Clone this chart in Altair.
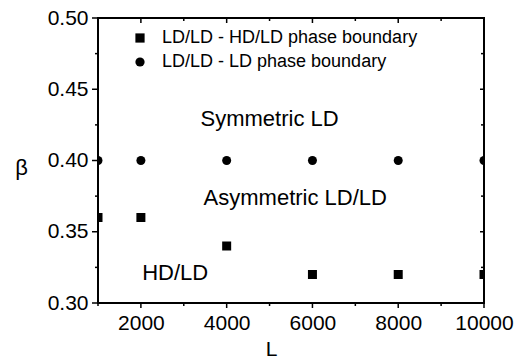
import altair as alt
import pandas as pd

# ---- data ----
L_values = [1000, 2000, 4000, 6000, 8000, 10000]
beta_hdld = [0.36, 0.36, 0.34, 0.32, 0.32, 0.32]
beta_ld = [0.40, 0.40, 0.40, 0.40, 0.40, 0.40]
series_names = ["LD/LD - HD/LD phase boundary", "LD/LD - LD phase boundary"]

x_major_ticks = [2000, 4000, 6000, 8000, 10000]
x_minor_ticks = [1000, 3000, 5000, 7000, 9000]
y_major_ticks = [0.30, 0.35, 0.40, 0.45, 0.50]
y_minor_ticks = [0.325, 0.375, 0.425, 0.475]

ann_text = ["Symmetric LD", "Asymmetric LD/LD", "HD/LD"]
ann_L = [5000, 5600, 2800]
ann_beta = [0.429, 0.374, 0.321]

FONT = "Liberation Sans"
W, H = 386, 285

pts = pd.DataFrame({
    "L": L_values + L_values,
    "beta": beta_hdld + beta_ld,
    "series": [series_names[0]] * len(L_values) + [series_names[1]] * len(L_values),
})
ann = pd.DataFrame({"L": ann_L, "beta": ann_beta, "text": ann_text})
xt_major = pd.DataFrame({"L": x_major_ticks})
xt_minor = pd.DataFrame({"L": x_minor_ticks})
yt_major = pd.DataFrame({"beta": y_major_ticks})
yt_minor = pd.DataFrame({"beta": y_minor_ticks})

xscale = alt.Scale(domain=[1000, 10000], nice=False, zero=False)
yscale = alt.Scale(domain=[0.30, 0.50], nice=False, zero=False)

x_axis_main = alt.Axis(
    orient="bottom", values=x_major_ticks, format="d", ticks=False,
    labelPadding=9, labelFontSize=21, labelFont=FONT, labelColor="black",
    labelFlush=False, labelOverlap=False, domain=False, grid=False,
    title="L", titleFont=FONT, titleFontSize=21, titleFontWeight="normal",
    titleColor="black", titleX=173, titleY=46, titleAlign="center",
    titleBaseline="middle",
)
y_axis_main = alt.Axis(
    orient="left", values=y_major_ticks, format=".2f", ticks=False,
    labelPadding=10, labelFontSize=21, labelFont=FONT, labelColor="black",
    labelFlush=False, labelOverlap=False, domain=False, grid=False,
    title="β", titleFont=FONT, titleFontSize=22, titleFontWeight="normal",
    titleColor="black", titleAngle=0, titleX=-77, titleY=149,
    titleAlign="center", titleBaseline="middle",
)

points = alt.Chart(pts).mark_point(filled=True, size=81, opacity=1, color="black", clip=True).encode(
    x=alt.X("L:Q", scale=xscale, axis=x_axis_main),
    y=alt.Y("beta:Q", scale=yscale, axis=y_axis_main),
    shape=alt.Shape("series:N", sort=series_names,
                    scale=alt.Scale(domain=series_names, range=["square", "circle"]),
                    legend=alt.Legend(
                        title=None, orient="none", legendX=33, legendY=11,
                        symbolSize=85, symbolFillColor="black", symbolStrokeWidth=0,
                        labelFont=FONT, labelFontSize=18, labelColor="black",
                        labelOffset=13, rowPadding=6, padding=0, labelLimit=400,
                    )),
)


def xticks(df, y0, y1):
    return alt.Chart(df).mark_rule(color="black", strokeWidth=1.5).encode(
        x=alt.X("L:Q", scale=xscale, axis=None),
        y=alt.value(y0), y2=alt.value(y1),
    )


def yticks(df, x0, x1):
    return alt.Chart(df).mark_rule(color="black", strokeWidth=1.5).encode(
        y=alt.Y("beta:Q", scale=yscale, axis=None),
        x=alt.value(x0), x2=alt.value(x1),
    )


tick_layers = [
    xticks(xt_major, H, H + 5), xticks(xt_minor, H, H + 3),   # bottom, outward
    xticks(xt_major, 0, 5), xticks(xt_minor, 0, 3),           # top, inward
    yticks(yt_major, 0, -6), yticks(yt_minor, 0, -3),         # left, outward
    yticks(yt_major, W, W - 4), yticks(yt_minor, W, W - 3),   # right, inward
]

labels = alt.Chart(ann).mark_text(font=FONT, fontSize=22, color="black",
                                  align="center", baseline="middle").encode(
    x=alt.X("L:Q", scale=xscale, axis=None),
    y=alt.Y("beta:Q", scale=yscale, axis=None),
    text="text:N",
)

chart = alt.layer(points, *tick_layers, labels).resolve_axis(
    x="independent", y="independent"
).properties(
    width=W, height=H,
    autosize=alt.AutoSizeParams(type="none"),
    padding={"left": 98, "top": 18, "right": 38, "bottom": 56},
    background="white",
).configure_view(stroke="black", strokeWidth=2)

chart.save("out.html", embed_options={"renderer": "svg", "actions": False})
